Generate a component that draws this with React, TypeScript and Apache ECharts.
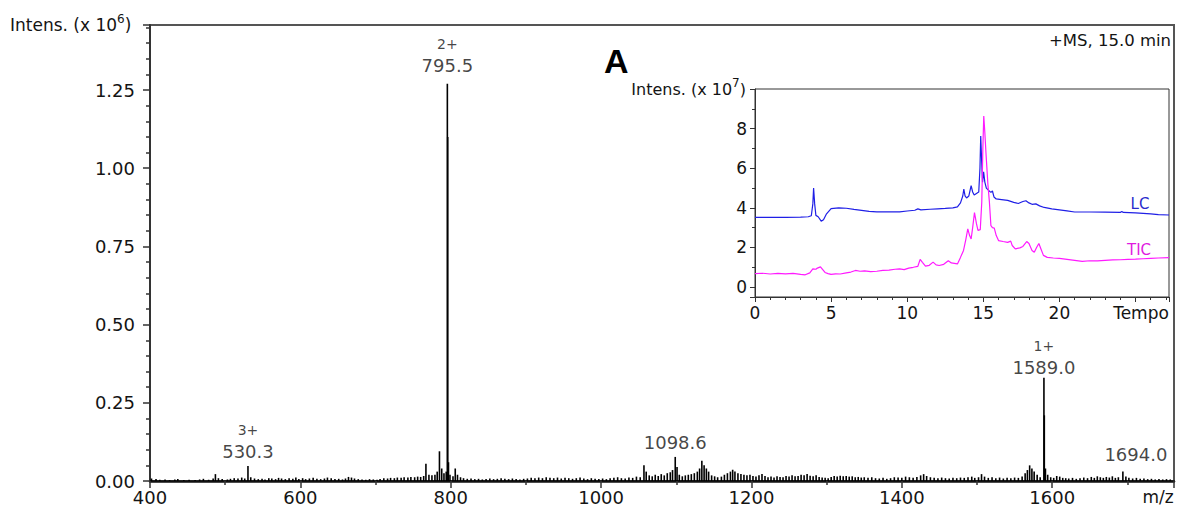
import React, { useEffect, useRef } from "react";
import * as echarts from "echarts";

// Mass spectrum (+MS, 15.0 min): [m/z, intensity x10^6]
const spectrumPeaks: [number, number][] = [
  [402, 0.008], [408, 0.006], [413, 0.004], [420, 0.005], [426, 0.003], [433, 0.005], [437, 0.006], [445, 0.003],
  [452, 0.004], [460, 0.003], [466, 0.005], [471, 0.007], [478, 0.004], [484, 0.008], [487, 0.022], [491, 0.009], [496, 0.006],
  [503, 0.005], [507, 0.007], [512, 0.009], [517, 0.008], [522, 0.011], [526, 0.008], [530.3, 0.048], [534, 0.012], [539, 0.008],
  [544, 0.006], [549, 0.007], [553, 0.005], [558, 0.009], [562, 0.008], [567, 0.006], [571, 0.01], [575, 0.008], [580, 0.006],
  [585, 0.009], [590, 0.007], [594, 0.011], [598, 0.006],
  [603, 0.009], [607, 0.006], [612, 0.008], [617, 0.01], [622, 0.007], [627, 0.006], [632, 0.008], [636, 0.011], [641, 0.009],
  [646, 0.006], [651, 0.007], [656, 0.005], [660, 0.008], [664, 0.013], [668, 0.011], [672, 0.008], [677, 0.006], [682, 0.005],
  [687, 0.004], [692, 0.006], [697, 0.005],
  [702, 0.004], [706, 0.006], [711, 0.009], [716, 0.008], [720, 0.01], [725, 0.009], [729, 0.011], [734, 0.01], [738, 0.012],
  [743, 0.011], [747, 0.013], [752, 0.012], [756, 0.014], [760, 0.013], [764, 0.016], [767, 0.055], [771, 0.02], [775, 0.018],
  [779, 0.02], [782, 0.03], [785, 0.095], [788, 0.04], [791, 0.025], [794, 0.03], [795.5, 1.27], [796.0, 1.10], [797, 0.06], [799, 0.02],
  [803, 0.015], [806, 0.04], [809, 0.02], [813, 0.012], [817, 0.009], [822, 0.007], [827, 0.008], [832, 0.006], [837, 0.007],
  [842, 0.005], [847, 0.006], [852, 0.008], [857, 0.006], [862, 0.007], [867, 0.009], [872, 0.007], [877, 0.006], [882, 0.008],
  [887, 0.006], [892, 0.005], [897, 0.007],
  [902, 0.008], [907, 0.01], [912, 0.009], [917, 0.011], [922, 0.009], [927, 0.012], [932, 0.01], [937, 0.009], [942, 0.011],
  [947, 0.008], [952, 0.01], [957, 0.009], [962, 0.007], [967, 0.009], [972, 0.011], [977, 0.008], [982, 0.006], [987, 0.009],
  [992, 0.007], [997, 0.006],
  [1002, 0.008], [1007, 0.006], [1012, 0.009], [1017, 0.01], [1022, 0.012], [1027, 0.009], [1032, 0.008], [1037, 0.011],
  [1042, 0.01], [1047, 0.014], [1052, 0.012], [1057, 0.05], [1060, 0.03], [1064, 0.018], [1068, 0.015], [1072, 0.02],
  [1076, 0.016], [1080, 0.022], [1084, 0.018], [1088, 0.025], [1092, 0.028], [1095, 0.035], [1098.6, 0.077], [1101, 0.045],
  [1104, 0.02], [1108, 0.015],
  [1112, 0.018], [1116, 0.02], [1120, 0.022], [1124, 0.025], [1128, 0.03], [1131, 0.04], [1134, 0.065], [1137, 0.05],
  [1140, 0.04], [1143, 0.03], [1147, 0.018], [1151, 0.015], [1155, 0.012], [1160, 0.014], [1164, 0.02], [1168, 0.025],
  [1172, 0.03], [1175, 0.036], [1178, 0.03], [1182, 0.025], [1186, 0.022], [1190, 0.02], [1194, 0.018], [1198, 0.02],
  [1202, 0.016], [1206, 0.014], [1210, 0.018], [1214, 0.022], [1218, 0.016], [1222, 0.012], [1226, 0.014], [1230, 0.011],
  [1234, 0.015], [1238, 0.013], [1242, 0.012], [1246, 0.016], [1250, 0.014], [1254, 0.018], [1258, 0.015], [1262, 0.016],
  [1266, 0.02], [1270, 0.018], [1274, 0.022], [1278, 0.017], [1282, 0.015], [1286, 0.018], [1290, 0.013], [1294, 0.011], [1298, 0.01],
  [1302, 0.009], [1306, 0.013], [1310, 0.016], [1314, 0.014], [1318, 0.017], [1322, 0.015], [1326, 0.016], [1330, 0.014],
  [1334, 0.015], [1338, 0.012], [1342, 0.013], [1346, 0.011], [1350, 0.012], [1355, 0.01], [1360, 0.012], [1365, 0.009],
  [1370, 0.008], [1375, 0.01], [1380, 0.007], [1385, 0.009], [1390, 0.012], [1395, 0.011], [1400, 0.01],
  [1405, 0.014], [1410, 0.012], [1415, 0.01], [1420, 0.013], [1425, 0.018], [1429, 0.022], [1433, 0.016], [1438, 0.012],
  [1443, 0.01], [1448, 0.009], [1453, 0.011], [1458, 0.009], [1463, 0.008], [1468, 0.01], [1473, 0.009], [1478, 0.011],
  [1483, 0.01], [1488, 0.012], [1493, 0.014], [1497, 0.01],
  [1502, 0.012], [1506, 0.022], [1510, 0.014], [1515, 0.01], [1520, 0.012], [1525, 0.009], [1530, 0.011], [1535, 0.008],
  [1540, 0.01], [1545, 0.009], [1550, 0.011], [1555, 0.01], [1560, 0.014], [1564, 0.025], [1567, 0.035], [1570, 0.05],
  [1573, 0.04], [1576, 0.03], [1580, 0.02], [1584, 0.012], [1589.0, 0.33], [1589.5, 0.21], [1591, 0.04], [1594, 0.02], [1598, 0.012],
  [1602, 0.01], [1606, 0.016], [1610, 0.014], [1614, 0.01], [1618, 0.009], [1622, 0.008], [1627, 0.01], [1632, 0.007],
  [1637, 0.009], [1642, 0.011], [1647, 0.009], [1652, 0.013], [1656, 0.01], [1660, 0.015], [1664, 0.012], [1668, 0.01],
  [1672, 0.013], [1676, 0.011], [1680, 0.015], [1684, 0.01], [1688, 0.012], [1694, 0.03], [1698, 0.014], [1702, 0.01],
  [1707, 0.008], [1712, 0.01], [1717, 0.007], [1722, 0.008], [1727, 0.006], [1732, 0.007], [1737, 0.005], [1742, 0.006],
  [1747, 0.005], [1752, 0.006], [1757, 0.005],
];

// Annotated peaks
const labelMz = [530.3, 795.5, 1098.6, 1589.0, 1694.0];
const labelHeight = [0.048, 1.27, 0.077, 0.33, 0.03];
const labelCharge = ["3+", "2+", "", "1+", ""];
const labelText = ["530.3", "795.5", "1098.6", "1589.0", "1694.0"];

// Main axis ticks
const mzTicks = { min: 400, max: 1762, step: 200 };
const intensTicks = { min: 0, max: 1.458, step: 0.25 };

// Inset chromatograms: [time, intensity x10^7]
const lcTrace: [number, number][] = [
  [0, 3.52], [1, 3.52], [2, 3.52], [3, 3.53], [3.5, 3.55], [3.7, 3.6], [3.8, 4.2], [3.85, 5.0], [3.92, 4.2], [4.0, 3.62],
  [4.15, 3.55], [4.35, 3.33], [4.5, 3.4], [4.7, 3.7], [5.0, 3.96], [5.5, 4.0], [6.0, 3.98], [6.5, 3.92], [7.0, 3.87],
  [7.5, 3.82], [8, 3.8], [9, 3.8], [9.5, 3.8], [10, 3.84], [10.5, 3.88], [10.7, 3.95], [10.9, 3.9], [11.5, 3.93], [12, 3.95],
  [12.5, 3.97], [13, 4.0], [13.3, 4.05], [13.5, 4.25], [13.65, 4.6], [13.72, 4.95], [13.8, 4.6], [13.9, 4.5], [14.05, 4.6],
  [14.2, 5.12], [14.3, 4.8], [14.4, 4.65], [14.5, 4.7], [14.6, 4.75], [14.7, 4.8], [14.78, 6.0], [14.83, 7.63], [14.9, 6.2],
  [14.95, 5.3], [15.02, 5.82], [15.1, 5.3], [15.2, 5.0], [15.35, 4.88], [15.5, 4.78], [15.6, 4.85], [15.7, 4.55], [15.85, 4.45],
  [16.2, 4.42], [16.6, 4.38], [17.0, 4.28], [17.3, 4.22], [17.6, 4.32], [17.8, 4.36], [18.0, 4.25], [18.2, 4.18], [18.45, 4.2],
  [18.7, 4.1], [19, 4.02], [19.5, 3.95], [20, 3.9], [20.5, 3.85], [21, 3.79], [22, 3.79], [23, 3.78], [24, 3.77], [24.1, 3.82],
  [24.2, 3.77], [25, 3.75], [26, 3.7], [26.5, 3.66], [27.2, 3.64],
];
const ticTrace: [number, number][] = [
  [0, 0.68], [0.5, 0.7], [1, 0.66], [1.5, 0.69], [2, 0.67], [2.5, 0.69], [3, 0.64], [3.3, 0.62], [3.6, 0.72], [3.8, 0.92],
  [4.0, 0.9], [4.1, 0.96], [4.3, 1.02], [4.45, 0.88], [4.6, 0.74], [4.8, 0.68], [5.0, 0.64], [5.3, 0.67], [5.6, 0.66],
  [6.0, 0.72], [6.3, 0.76], [6.6, 0.84], [6.9, 0.8], [7.2, 0.82], [7.6, 0.78], [8.0, 0.8], [8.4, 0.84], [8.8, 0.86],
  [9.2, 0.9], [9.5, 0.92], [9.8, 0.88], [10.1, 0.96], [10.4, 1.0], [10.7, 1.05], [10.85, 1.4], [11.0, 1.25], [11.2, 1.06],
  [11.45, 1.1], [11.7, 1.26], [11.9, 1.12], [12.1, 1.09], [12.4, 1.15], [12.7, 1.33], [12.9, 1.22], [13.1, 1.2], [13.3, 1.17],
  [13.5, 1.5], [13.7, 1.85], [13.85, 2.4], [13.98, 2.94], [14.1, 2.6], [14.2, 2.43], [14.3, 3.0], [14.42, 3.76], [14.55, 3.2],
  [14.65, 2.86], [14.8, 2.9], [14.9, 4.3], [14.97, 7.0], [15.03, 8.64], [15.1, 7.8], [15.18, 6.7], [15.3, 5.2], [15.4, 4.3],
  [15.5, 3.1], [15.6, 3.0], [15.72, 2.98], [15.85, 2.6], [16.0, 2.35], [16.3, 2.3], [16.6, 2.26], [16.8, 2.32], [16.9, 2.1],
  [17.1, 1.93], [17.4, 1.98], [17.6, 2.05], [17.85, 2.3], [18.0, 2.2], [18.2, 1.85], [18.35, 1.76], [18.5, 2.0], [18.65, 2.2],
  [18.8, 1.9], [18.95, 1.6], [19.2, 1.5], [19.6, 1.47], [20, 1.45], [20.5, 1.4], [21, 1.35], [21.5, 1.3], [22, 1.33],
  [22.5, 1.32], [23, 1.35], [23.5, 1.37], [24, 1.38], [24.5, 1.4], [25, 1.41], [25.5, 1.43], [26, 1.45], [26.5, 1.47], [27.2, 1.49],
];
const timeTicks = { min: 0, max: 27.2, step: 5, lastLabel: 20 };
const insetIntens = { min: -0.5, max: 10 };

const FONT = "'DejaVu Sans', 'Noto Sans', sans-serif";
const TXT = "#141414";

export default function App() {
  const ref = useRef<HTMLDivElement>(null);
  useEffect(() => {
    document.body.style.margin = "0";
    if (!ref.current) return;
    const chart = echarts.init(ref.current, undefined, { renderer: "svg" });

    const axisLineStyle = { color: "#333", width: 2 };
    const tickStyle = { color: "#333", width: 1.5 };
    const thin = { color: "#333", width: 1 };
    const labelOffsets: Record<number, number[]> = { 1: [0, -4], 3: [0, 4], 4: [13, -3] };

    const option: any = {
      animation: false,
      backgroundColor: "#fff",
      textStyle: { fontFamily: FONT },
      grid: [
        { left: 150, top: 25, width: 1024, height: 456, show: true, borderColor: "#555", borderWidth: 2, backgroundColor: "transparent" },
        { left: 755, top: 89, width: 414, height: 208, show: true, borderColor: "#333", borderWidth: 1, backgroundColor: "#fff", z: 5 },
      ],
      xAxis: [
        {
          type: "value", gridIndex: 0, min: mzTicks.min, max: mzTicks.max, interval: mzTicks.step,
          axisLine: { onZero: false, lineStyle: { color: "#111", width: 2.5 } },
          axisTick: { length: 7, lineStyle: tickStyle },
          minorTick: { show: true, splitNumber: 2, length: 4, lineStyle: tickStyle },
          splitLine: { show: false },
          axisLabel: { showMaxLabel: false, fontSize: 18, color: TXT, margin: 7, fontFamily: FONT, formatter: (v: number) => String(v) },
        },
        {
          type: "value", gridIndex: 1, min: timeTicks.min, max: timeTicks.max, interval: timeTicks.step,
          axisLine: { onZero: false, lineStyle: thin },
          axisTick: { length: 5, lineStyle: thin },
          minorTick: { show: true, splitNumber: 5, length: 3, lineStyle: thin },
          splitLine: { show: false },
          axisLabel: {
            showMaxLabel: false, fontSize: 17, color: TXT, margin: 7, fontFamily: FONT,
            formatter: (v: number) => (v <= timeTicks.lastLabel ? String(v) : ""),
          },
          z: 6,
        },
      ],
      yAxis: [
        {
          type: "value", gridIndex: 0, min: intensTicks.min, max: intensTicks.max, interval: intensTicks.step,
          axisLine: { onZero: false, lineStyle: axisLineStyle },
          axisTick: { length: 7, lineStyle: tickStyle },
          minorTick: { show: true, splitNumber: 5, length: 4, lineStyle: tickStyle },
          splitLine: { show: false },
          axisLabel: { showMaxLabel: false, fontSize: 18, color: TXT, margin: 15, fontFamily: FONT, formatter: (v: number) => v.toFixed(2) },
        },
        {
          type: "value", gridIndex: 1, min: insetIntens.min, max: insetIntens.max, splitNumber: 5,
          axisLine: { onZero: false, lineStyle: thin },
          axisTick: { length: 5, lineStyle: thin },
          minorTick: { show: true, splitNumber: 2, length: 3, lineStyle: thin },
          splitLine: { show: false },
          axisLabel: { showMinLabel: false, showMaxLabel: false, fontSize: 17, color: TXT, margin: 8, fontFamily: FONT },
          z: 6,
        },
      ],
      series: [
        {
          type: "custom", xAxisIndex: 0, yAxisIndex: 0, clip: true,
          data: spectrumPeaks,
          renderItem: (params: any, api: any) => {
            const x = api.value(0);
            const y = api.value(1);
            const p0 = api.coord([x, 0]);
            const p1 = api.coord([x, y]);
            return {
              type: "line",
              shape: { x1: p0[0], y1: p0[1], x2: p1[0], y2: p1[1] },
              style: { stroke: "#000", lineWidth: 1.6 },
            };
          },
        },
        {
          type: "scatter", xAxisIndex: 0, yAxisIndex: 0, symbolSize: 0, silent: true,
          data: labelMz.map((m, i) => ({
            value: [m, labelHeight[i]],
            label: labelOffsets[i] ? { offset: labelOffsets[i] } : undefined,
          })),
          label: {
            show: true, position: "top", distance: 3,
            formatter: (p: any) => {
              const i = p.dataIndex;
              return labelCharge[i] ? `{c|${labelCharge[i]}}\n{v|${labelText[i]}}` : `{v|${labelText[i]}}`;
            },
            rich: {
              c: { fontSize: 14, lineHeight: 22, color: TXT, fontFamily: FONT, align: "center" },
              v: { fontSize: 18, lineHeight: 22, color: TXT, fontFamily: FONT, align: "center" },
            },
          },
        },
        {
          type: "line", xAxisIndex: 1, yAxisIndex: 1, data: lcTrace, showSymbol: false, z: 7,
          lineStyle: { color: "#1f1fe6", width: 1.2 },
        },
        {
          type: "line", xAxisIndex: 1, yAxisIndex: 1, data: ticTrace, showSymbol: false, z: 7,
          lineStyle: { color: "#ff1aff", width: 1.2 },
        },
      ],
      graphic: [
        {
          type: "text", left: 10, top: 13,
          style: {
            text: "{a|Intens. (x 10}{s|6}{a|)}",
            rich: {
              a: { fontSize: 17, lineHeight: 24, fill: TXT, fontFamily: FONT },
              s: { fontSize: 12, lineHeight: 12, fill: TXT, fontFamily: FONT, verticalAlign: "top" },
            },
          },
        },
        {
          type: "text", right: 1188 - 746, top: 77,
          style: {
            text: "{a|Intens. (x 10}{s|7}{a|)}",
            rich: {
              a: { fontSize: 16, lineHeight: 24, fill: TXT, fontFamily: FONT },
              s: { fontSize: 12, lineHeight: 12, fill: TXT, fontFamily: FONT, verticalAlign: "top" },
            },
          },
          z: 10,
        },
        { type: "text", x: 604, y: 44, style: { text: "A", fontSize: 34, fontWeight: "bold", fontFamily: "'Liberation Sans', Arial, sans-serif", fill: "#000" } },
        { type: "text", x: 1171, y: 40, style: { text: "+MS, 15.0 min", fontSize: 16.5, fontFamily: FONT, fill: TXT, align: "right", verticalAlign: "middle" } },
        { type: "text", x: 1158, y: 497, style: { text: "m/z", fontSize: 17, fontFamily: FONT, fill: TXT, align: "center", verticalAlign: "middle" } },
        { type: "text", x: 1141, y: 313, z: 10, style: { text: "Tempo", fontSize: 17, fontFamily: FONT, fill: TXT, align: "center", verticalAlign: "middle" } },
        { type: "text", x: 1140, y: 204, z: 10, style: { text: "LC", fontSize: 15, fontFamily: FONT, fill: "#2a2acc", align: "center", verticalAlign: "middle" } },
        { type: "text", x: 1139, y: 250, z: 10, style: { text: "TIC", fontSize: 15, fontFamily: FONT, fill: "#e01ce0", align: "center", verticalAlign: "middle" } },
      ],
    };
    chart.setOption(option);
    return () => chart.dispose();
  }, []);
  return <div ref={ref} style={{ width: 1188, height: 516 }} />;
}
